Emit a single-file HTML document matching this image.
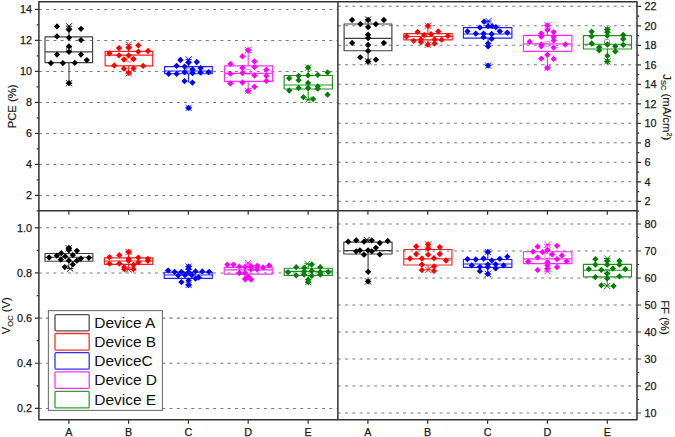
<!DOCTYPE html>
<html><head><meta charset="utf-8"><title>Box charts</title>
<style>html,body{margin:0;padding:0;background:#fff;}body{width:675px;height:437px;overflow:hidden;}svg{display:block;font-family:"Liberation Sans", sans-serif;}</style></head><body>
<svg width="675" height="437" viewBox="0 0 675 437">
<rect x="0" y="0" width="675" height="437" fill="#ffffff"/>
<g>
<line x1="38.9" y1="9.4" x2="337.9" y2="9.4" stroke="#7a7a7a" stroke-width="1.05" stroke-dasharray="2.9 4.36"/>
<line x1="38.9" y1="40.4" x2="337.9" y2="40.4" stroke="#7a7a7a" stroke-width="1.05" stroke-dasharray="2.9 4.36"/>
<line x1="38.9" y1="71.4" x2="337.9" y2="71.4" stroke="#7a7a7a" stroke-width="1.05" stroke-dasharray="2.9 4.36"/>
<line x1="38.9" y1="102.4" x2="337.9" y2="102.4" stroke="#7a7a7a" stroke-width="1.05" stroke-dasharray="2.9 4.36"/>
<line x1="38.9" y1="133.4" x2="337.9" y2="133.4" stroke="#7a7a7a" stroke-width="1.05" stroke-dasharray="2.9 4.36"/>
<line x1="38.9" y1="164.4" x2="337.9" y2="164.4" stroke="#7a7a7a" stroke-width="1.05" stroke-dasharray="2.9 4.36"/>
<line x1="38.9" y1="195.4" x2="337.9" y2="195.4" stroke="#7a7a7a" stroke-width="1.05" stroke-dasharray="2.9 4.36"/>
<line x1="38.9" y1="227.8" x2="337.9" y2="227.8" stroke="#7a7a7a" stroke-width="1.05" stroke-dasharray="2.9 4.36"/>
<line x1="38.9" y1="272.95" x2="337.9" y2="272.95" stroke="#7a7a7a" stroke-width="1.05" stroke-dasharray="2.9 4.36"/>
<line x1="38.9" y1="318.1" x2="337.9" y2="318.1" stroke="#7a7a7a" stroke-width="1.05" stroke-dasharray="2.9 4.36"/>
<line x1="38.9" y1="363.25" x2="337.9" y2="363.25" stroke="#7a7a7a" stroke-width="1.05" stroke-dasharray="2.9 4.36"/>
<line x1="38.9" y1="408.4" x2="337.9" y2="408.4" stroke="#7a7a7a" stroke-width="1.05" stroke-dasharray="2.9 4.36"/>
<line x1="337.9" y1="6.3" x2="637" y2="6.3" stroke="#7a7a7a" stroke-width="1.05" stroke-dasharray="2.9 4.36"/>
<line x1="337.9" y1="25.8" x2="637" y2="25.8" stroke="#7a7a7a" stroke-width="1.05" stroke-dasharray="2.9 4.36"/>
<line x1="337.9" y1="45.3" x2="637" y2="45.3" stroke="#7a7a7a" stroke-width="1.05" stroke-dasharray="2.9 4.36"/>
<line x1="337.9" y1="64.8" x2="637" y2="64.8" stroke="#7a7a7a" stroke-width="1.05" stroke-dasharray="2.9 4.36"/>
<line x1="337.9" y1="84.3" x2="637" y2="84.3" stroke="#7a7a7a" stroke-width="1.05" stroke-dasharray="2.9 4.36"/>
<line x1="337.9" y1="103.8" x2="637" y2="103.8" stroke="#7a7a7a" stroke-width="1.05" stroke-dasharray="2.9 4.36"/>
<line x1="337.9" y1="123.3" x2="637" y2="123.3" stroke="#7a7a7a" stroke-width="1.05" stroke-dasharray="2.9 4.36"/>
<line x1="337.9" y1="142.8" x2="637" y2="142.8" stroke="#7a7a7a" stroke-width="1.05" stroke-dasharray="2.9 4.36"/>
<line x1="337.9" y1="162.3" x2="637" y2="162.3" stroke="#7a7a7a" stroke-width="1.05" stroke-dasharray="2.9 4.36"/>
<line x1="337.9" y1="181.8" x2="637" y2="181.8" stroke="#7a7a7a" stroke-width="1.05" stroke-dasharray="2.9 4.36"/>
<line x1="337.9" y1="201.3" x2="637" y2="201.3" stroke="#7a7a7a" stroke-width="1.05" stroke-dasharray="2.9 4.36"/>
<line x1="337.9" y1="224" x2="637" y2="224" stroke="#7a7a7a" stroke-width="1.05" stroke-dasharray="2.9 4.36"/>
<line x1="337.9" y1="251" x2="637" y2="251" stroke="#7a7a7a" stroke-width="1.05" stroke-dasharray="2.9 4.36"/>
<line x1="337.9" y1="278" x2="637" y2="278" stroke="#7a7a7a" stroke-width="1.05" stroke-dasharray="2.9 4.36"/>
<line x1="337.9" y1="305" x2="637" y2="305" stroke="#7a7a7a" stroke-width="1.05" stroke-dasharray="2.9 4.36"/>
<line x1="337.9" y1="332" x2="637" y2="332" stroke="#7a7a7a" stroke-width="1.05" stroke-dasharray="2.9 4.36"/>
<line x1="337.9" y1="359" x2="637" y2="359" stroke="#7a7a7a" stroke-width="1.05" stroke-dasharray="2.9 4.36"/>
<line x1="337.9" y1="386" x2="637" y2="386" stroke="#7a7a7a" stroke-width="1.05" stroke-dasharray="2.9 4.36"/>
<line x1="337.9" y1="413" x2="637" y2="413" stroke="#7a7a7a" stroke-width="1.05" stroke-dasharray="2.9 4.36"/>
</g>
<line x1="69" y1="36.9" x2="69" y2="29.7" stroke="#404040" stroke-width="1.1"/><line x1="69" y1="62.6" x2="69" y2="83.2" stroke="#404040" stroke-width="1.1"/><rect x="45" y="36.9" width="47.6" height="25.7" fill="none" stroke="#404040" stroke-width="1.15" stroke-linejoin="round"/><line x1="45" y1="51.8" x2="92.6" y2="51.8" stroke="#404040" stroke-width="1.15"/><rect x="66.6" y="46.7" width="4.8" height="4.8" rx="0.6" fill="none" stroke="#404040" stroke-width="0.8" opacity="0.85"/><path d="M65.9 23.1L72.1 29.3M65.9 29.3L72.1 23.1M65.8 26.2L72.2 26.2" stroke="#000000" stroke-width="0.9" fill="none"/><path d="M65.9 80.1L72.1 86.3M65.9 86.3L72.1 80.1M65.8 83.2L72.2 83.2" stroke="#000000" stroke-width="0.9" fill="none"/><path d="M57 23.25L60.15 26.4L57 29.55L53.85 26.4Z" fill="#000000"/><path d="M69 26.55L72.15 29.7L69 32.85L65.85 29.7Z" fill="#000000"/><path d="M81 25.65L84.15 28.8L81 31.95L77.85 28.8Z" fill="#000000"/><path d="M57 33.15L60.15 36.3L57 39.45L53.85 36.3Z" fill="#000000"/><path d="M69 34.55L72.15 37.7L69 40.85L65.85 37.7Z" fill="#000000"/><path d="M81 36.95L84.15 40.1L81 43.25L77.85 40.1Z" fill="#000000"/><path d="M69 43.25L72.15 46.4L69 49.55L65.85 46.4Z" fill="#000000"/><path d="M69 48.65L72.15 51.8L69 54.95L65.85 51.8Z" fill="#000000"/><path d="M57 51.45L60.15 54.6L57 57.75L53.85 54.6Z" fill="#000000"/><path d="M81 51.45L84.15 54.6L81 57.75L77.85 54.6Z" fill="#000000"/><path d="M86.8 56.95L89.95 60.1L86.8 63.25L83.65 60.1Z" fill="#000000"/><path d="M50.9 59.95L54.05 63.1L50.9 66.25L47.75 63.1Z" fill="#000000"/><path d="M62.9 59.95L66.05 63.1L62.9 66.25L59.75 63.1Z" fill="#000000"/><path d="M74.8 59.65L77.95 62.8L74.8 65.95L71.65 62.8Z" fill="#000000"/><path d="M69 80.05L72.15 83.2L69 86.35L65.85 83.2Z" fill="#000000"/>
<line x1="128.7" y1="51.3" x2="128.7" y2="44.6" stroke="#ff2020" stroke-width="1.1"/><line x1="128.7" y1="65.8" x2="128.7" y2="72.8" stroke="#ff2020" stroke-width="1.1"/><rect x="105.1" y="51.3" width="47.6" height="14.5" fill="none" stroke="#ff2020" stroke-width="1.15" stroke-linejoin="round"/><line x1="105.1" y1="55.1" x2="152.7" y2="55.1" stroke="#ff2020" stroke-width="1.15"/><rect x="126.3" y="57.1" width="4.8" height="4.8" rx="0.6" fill="none" stroke="#ff2020" stroke-width="0.8" opacity="0.85"/><path d="M125.6 41.5L131.8 47.7M125.6 47.7L131.8 41.5M125.5 44.6L131.9 44.6" stroke="#ff0000" stroke-width="0.9" fill="none"/><path d="M125.6 70.2L131.8 76.4M125.6 76.4L131.8 70.2M125.5 73.3L131.9 73.3" stroke="#ff0000" stroke-width="0.9" fill="none"/><path d="M119 44.95L122.15 48.1L119 51.25L115.85 48.1Z" fill="#ff0000"/><path d="M128.7 44.65L131.85 47.8L128.7 50.95L125.55 47.8Z" fill="#ff0000"/><path d="M138.3 42.15L141.45 45.3L138.3 48.45L135.15 45.3Z" fill="#ff0000"/><path d="M109.4 50.15L112.55 53.3L109.4 56.45L106.25 53.3Z" fill="#ff0000"/><path d="M138.3 48.55L141.45 51.7L138.3 54.85L135.15 51.7Z" fill="#ff0000"/><path d="M148 47.85L151.15 51L148 54.15L144.85 51Z" fill="#ff0000"/><path d="M119 52.15L122.15 55.3L119 58.45L115.85 55.3Z" fill="#ff0000"/><path d="M128.7 52.15L131.85 55.3L128.7 58.45L125.55 55.3Z" fill="#ff0000"/><path d="M123.9 56.35L127.05 59.5L123.9 62.65L120.75 59.5Z" fill="#ff0000"/><path d="M133.5 55.85L136.65 59L133.5 62.15L130.35 59Z" fill="#ff0000"/><path d="M114.3 62.35L117.45 65.5L114.3 68.65L111.15 65.5Z" fill="#ff0000"/><path d="M143.1 62.75L146.25 65.9L143.1 69.05L139.95 65.9Z" fill="#ff0000"/><path d="M123.9 65.55L127.05 68.7L123.9 71.85L120.75 68.7Z" fill="#ff0000"/><path d="M133.5 65.25L136.65 68.4L133.5 71.55L130.35 68.4Z" fill="#ff0000"/><path d="M128.7 69.65L131.85 72.8L128.7 75.95L125.55 72.8Z" fill="#ff0000"/>
<line x1="188.6" y1="66.6" x2="188.6" y2="59.4" stroke="#2020ff" stroke-width="1.1"/><line x1="188.6" y1="73.8" x2="188.6" y2="82.4" stroke="#2020ff" stroke-width="1.1"/><rect x="164.6" y="66.6" width="47.7" height="7.2" fill="none" stroke="#2020ff" stroke-width="1.15" stroke-linejoin="round"/><line x1="164.6" y1="71" x2="212.3" y2="71" stroke="#2020ff" stroke-width="1.15"/><rect x="186.2" y="68.1" width="4.8" height="4.8" rx="0.6" fill="none" stroke="#2020ff" stroke-width="0.8" opacity="0.85"/><path d="M185.5 56.3L191.7 62.5M185.5 62.5L191.7 56.3M185.4 59.4L191.8 59.4" stroke="#0000ff" stroke-width="0.9" fill="none"/><path d="M185.5 104.8L191.7 111M185.5 111L191.7 104.8M185.4 107.9L191.8 107.9" stroke="#0000ff" stroke-width="0.9" fill="none"/><path d="M180.4 56.85L183.55 60L180.4 63.15L177.25 60Z" fill="#0000ff"/><path d="M188.6 59.45L191.75 62.6L188.6 65.75L185.45 62.6Z" fill="#0000ff"/><path d="M196.8 58.85L199.95 62L196.8 65.15L193.65 62Z" fill="#0000ff"/><path d="M176.6 62.65L179.75 65.8L176.6 68.95L173.45 65.8Z" fill="#0000ff"/><path d="M184.6 63.45L187.75 66.6L184.6 69.75L181.45 66.6Z" fill="#0000ff"/><path d="M192.6 66.25L195.75 69.4L192.6 72.55L189.45 69.4Z" fill="#0000ff"/><path d="M200.6 65.05L203.75 68.2L200.6 71.35L197.45 68.2Z" fill="#0000ff"/><path d="M168.6 70.65L171.75 73.8L168.6 76.95L165.45 73.8Z" fill="#0000ff"/><path d="M176.6 70.65L179.75 73.8L176.6 76.95L173.45 73.8Z" fill="#0000ff"/><path d="M184.6 69.05L187.75 72.2L184.6 75.35L181.45 72.2Z" fill="#0000ff"/><path d="M192.6 69.85L195.75 73L192.6 76.15L189.45 73Z" fill="#0000ff"/><path d="M200.6 69.45L203.75 72.6L200.6 75.75L197.45 72.6Z" fill="#0000ff"/><path d="M208.6 69.05L211.75 72.2L208.6 75.35L205.45 72.2Z" fill="#0000ff"/><path d="M184.5 77.95L187.65 81.1L184.5 84.25L181.35 81.1Z" fill="#0000ff"/><path d="M192.4 79.45L195.55 82.6L192.4 85.75L189.25 82.6Z" fill="#0000ff"/><path d="M188.6 104.75L191.75 107.9L188.6 111.05L185.45 107.9Z" fill="#0000ff"/>
<line x1="248.2" y1="65.8" x2="248.2" y2="50.1" stroke="#ff30ff" stroke-width="1.1"/><line x1="248.2" y1="81.3" x2="248.2" y2="91" stroke="#ff30ff" stroke-width="1.1"/><rect x="224.5" y="65.8" width="48.1" height="15.5" fill="none" stroke="#ff30ff" stroke-width="1.15" stroke-linejoin="round"/><line x1="224.5" y1="73.4" x2="272.6" y2="73.4" stroke="#ff30ff" stroke-width="1.15"/><rect x="245.7" y="69.6" width="4.8" height="4.8" rx="0.6" fill="none" stroke="#ff30ff" stroke-width="0.8" opacity="0.85"/><path d="M245 47L251.2 53.2M245 53.2L251.2 47M244.9 50.1L251.3 50.1" stroke="#ff00ff" stroke-width="0.9" fill="none"/><path d="M245 87.9L251.2 94.1M245 94.1L251.2 87.9M244.9 91L251.3 91" stroke="#ff00ff" stroke-width="0.9" fill="none"/><path d="M248.1 46.95L251.25 50.1L248.1 53.25L244.95 50.1Z" fill="#ff00ff"/><path d="M242.4 53.25L245.55 56.4L242.4 59.55L239.25 56.4Z" fill="#ff00ff"/><path d="M254.4 58.25L257.55 61.4L254.4 64.55L251.25 61.4Z" fill="#ff00ff"/><path d="M230.4 60.75L233.55 63.9L230.4 67.05L227.25 63.9Z" fill="#ff00ff"/><path d="M254.4 63.95L257.55 67.1L254.4 70.25L251.25 67.1Z" fill="#ff00ff"/><path d="M242.4 64.75L245.55 67.9L242.4 71.05L239.25 67.9Z" fill="#ff00ff"/><path d="M266.3 66.65L269.45 69.8L266.3 72.95L263.15 69.8Z" fill="#ff00ff"/><path d="M242.4 69.85L245.55 73L242.4 76.15L239.25 73Z" fill="#ff00ff"/><path d="M230.4 70.55L233.55 73.7L230.4 76.85L227.25 73.7Z" fill="#ff00ff"/><path d="M254.4 72.35L257.55 75.5L254.4 78.65L251.25 75.5Z" fill="#ff00ff"/><path d="M266.3 72.75L269.45 75.9L266.3 79.05L263.15 75.9Z" fill="#ff00ff"/><path d="M266.3 77.75L269.45 80.9L266.3 84.05L263.15 80.9Z" fill="#ff00ff"/><path d="M230.4 80.25L233.55 83.4L230.4 86.55L227.25 83.4Z" fill="#ff00ff"/><path d="M242.4 79.35L245.55 82.5L242.4 85.65L239.25 82.5Z" fill="#ff00ff"/><path d="M254.4 83.65L257.55 86.8L254.4 89.95L251.25 86.8Z" fill="#ff00ff"/><path d="M248.1 87.85L251.25 91L248.1 94.15L244.95 91Z" fill="#ff00ff"/>
<line x1="308.2" y1="75.5" x2="308.2" y2="67.6" stroke="#259025" stroke-width="1.1"/><line x1="308.2" y1="89" x2="308.2" y2="99.1" stroke="#259025" stroke-width="1.1"/><rect x="284.1" y="75.5" width="48.3" height="13.5" fill="none" stroke="#259025" stroke-width="1.15" stroke-linejoin="round"/><line x1="284.1" y1="85" x2="332.4" y2="85" stroke="#259025" stroke-width="1.15"/><path d="M305 64.5L311.2 70.7M305 70.7L311.2 64.5M304.9 67.6L311.3 67.6" stroke="#008000" stroke-width="0.9" fill="none"/><path d="M305 96.6L311.2 102.8M305 102.8L311.2 96.6M304.9 99.7L311.3 99.7" stroke="#008000" stroke-width="0.9" fill="none"/><path d="M308.1 64.45L311.25 67.6L308.1 70.75L304.95 67.6Z" fill="#008000"/><path d="M327.6 69.25L330.75 72.4L327.6 75.55L324.45 72.4Z" fill="#008000"/><path d="M298.6 72.65L301.75 75.8L298.6 78.95L295.45 75.8Z" fill="#008000"/><path d="M308.1 72.25L311.25 75.4L308.1 78.55L304.95 75.4Z" fill="#008000"/><path d="M317.8 71.75L320.95 74.9L317.8 78.05L314.65 74.9Z" fill="#008000"/><path d="M289.2 75.15L292.35 78.3L289.2 81.45L286.05 78.3Z" fill="#008000"/><path d="M298.6 77.05L301.75 80.2L298.6 83.35L295.45 80.2Z" fill="#008000"/><path d="M308.1 79.85L311.25 83L308.1 86.15L304.95 83Z" fill="#008000"/><path d="M289.2 87.35L292.35 90.5L289.2 93.65L286.05 90.5Z" fill="#008000"/><path d="M298.6 84.85L301.75 88L298.6 91.15L295.45 88Z" fill="#008000"/><path d="M308.1 84.85L311.25 88L308.1 91.15L304.95 88Z" fill="#008000"/><path d="M317.8 83.35L320.95 86.5L317.8 89.65L314.65 86.5Z" fill="#008000"/><path d="M317.8 85.55L320.95 88.7L317.8 91.85L314.65 88.7Z" fill="#008000"/><path d="M327.6 91.55L330.75 94.7L327.6 97.85L324.45 94.7Z" fill="#008000"/><path d="M303.4 94.05L306.55 97.2L303.4 100.35L300.25 97.2Z" fill="#008000"/><path d="M313.1 95.95L316.25 99.1L313.1 102.25L309.95 99.1Z" fill="#008000"/>
<line x1="368.1" y1="24" x2="368.1" y2="19.9" stroke="#404040" stroke-width="1.1"/><line x1="368.1" y1="50.7" x2="368.1" y2="61.4" stroke="#404040" stroke-width="1.1"/><rect x="344.1" y="24" width="47.8" height="26.7" fill="none" stroke="#404040" stroke-width="1.15" stroke-linejoin="round"/><line x1="344.1" y1="38.4" x2="391.9" y2="38.4" stroke="#404040" stroke-width="1.15"/><path d="M365 16.4L371.2 22.6M365 22.6L371.2 16.4M364.9 19.5L371.3 19.5" stroke="#000000" stroke-width="0.9" fill="none"/><path d="M365 58.3L371.2 64.5M365 64.5L371.2 58.3M364.9 61.4L371.3 61.4" stroke="#000000" stroke-width="0.9" fill="none"/><path d="M352.1 16.75L355.25 19.9L352.1 23.05L348.95 19.9Z" fill="#000000"/><path d="M368.1 16.75L371.25 19.9L368.1 23.05L364.95 19.9Z" fill="#000000"/><path d="M383.9 16.75L387.05 19.9L383.9 23.05L380.75 19.9Z" fill="#000000"/><path d="M360.3 20.95L363.45 24.1L360.3 27.25L357.15 24.1Z" fill="#000000"/><path d="M375.9 20.95L379.05 24.1L375.9 27.25L372.75 24.1Z" fill="#000000"/><path d="M368.1 23.95L371.25 27.1L368.1 30.25L364.95 27.1Z" fill="#000000"/><path d="M368.1 31.55L371.25 34.7L368.1 37.85L364.95 34.7Z" fill="#000000"/><path d="M368.1 34.95L371.25 38.1L368.1 41.25L364.95 38.1Z" fill="#000000"/><path d="M352.1 39.75L355.25 42.9L352.1 46.05L348.95 42.9Z" fill="#000000"/><path d="M383.9 39.75L387.05 42.9L383.9 46.05L380.75 42.9Z" fill="#000000"/><path d="M368.1 41.85L371.25 45L368.1 48.15L364.95 45Z" fill="#000000"/><path d="M368.1 47.75L371.25 50.9L368.1 54.05L364.95 50.9Z" fill="#000000"/><path d="M360.3 54.15L363.45 57.3L360.3 60.45L357.15 57.3Z" fill="#000000"/><path d="M375.9 56.55L379.05 59.7L375.9 62.85L372.75 59.7Z" fill="#000000"/><path d="M368.1 58.25L371.25 61.4L368.1 64.55L364.95 61.4Z" fill="#000000"/>
<line x1="427.9" y1="33.6" x2="427.9" y2="25.8" stroke="#ff2020" stroke-width="1.1"/><line x1="427.9" y1="39.9" x2="427.9" y2="44.7" stroke="#ff2020" stroke-width="1.1"/><rect x="403.8" y="33.6" width="48.4" height="6.3" fill="none" stroke="#ff2020" stroke-width="1.15" stroke-linejoin="round"/><line x1="403.8" y1="36.5" x2="452.2" y2="36.5" stroke="#ff2020" stroke-width="1.15"/><path d="M424.8 22.7L431 28.9M424.8 28.9L431 22.7M424.7 25.8L431.1 25.8" stroke="#ff0000" stroke-width="0.9" fill="none"/><path d="M424.8 41.6L431 47.8M424.8 47.8L431 41.6M424.7 44.7L431.1 44.7" stroke="#ff0000" stroke-width="0.9" fill="none"/><path d="M427.9 22.65L431.05 25.8L427.9 28.95L424.75 25.8Z" fill="#ff0000"/><path d="M417.6 28.75L420.75 31.9L417.6 35.05L414.45 31.9Z" fill="#ff0000"/><path d="M438.2 28.35L441.35 31.5L438.2 34.65L435.05 31.5Z" fill="#ff0000"/><path d="M406.6 33.35L409.75 36.5L406.6 39.65L403.45 36.5Z" fill="#ff0000"/><path d="M424.2 31.85L427.35 35L424.2 38.15L421.05 35Z" fill="#ff0000"/><path d="M431.1 31.05L434.25 34.2L431.1 37.35L427.95 34.2Z" fill="#ff0000"/><path d="M448 32.75L451.15 35.9L448 39.05L444.85 35.9Z" fill="#ff0000"/><path d="M413.7 37.65L416.85 40.8L413.7 43.95L410.55 40.8Z" fill="#ff0000"/><path d="M420.9 36.35L424.05 39.5L420.9 42.65L417.75 39.5Z" fill="#ff0000"/><path d="M420.9 38.85L424.05 42L420.9 45.15L417.75 42Z" fill="#ff0000"/><path d="M434.6 36.35L437.75 39.5L434.6 42.65L431.45 39.5Z" fill="#ff0000"/><path d="M434.6 40.25L437.75 43.4L434.6 46.55L431.45 43.4Z" fill="#ff0000"/><path d="M441.6 36.55L444.75 39.7L441.6 42.85L438.45 39.7Z" fill="#ff0000"/><path d="M427.9 41.55L431.05 44.7L427.9 47.85L424.75 44.7Z" fill="#ff0000"/>
<line x1="488.1" y1="27.6" x2="488.1" y2="21" stroke="#2020ff" stroke-width="1.1"/><line x1="488.1" y1="38.1" x2="488.1" y2="46.4" stroke="#2020ff" stroke-width="1.1"/><rect x="463.4" y="27.6" width="48.5" height="10.5" fill="none" stroke="#2020ff" stroke-width="1.15" stroke-linejoin="round"/><line x1="463.4" y1="34" x2="511.9" y2="34" stroke="#2020ff" stroke-width="1.15"/><path d="M485.4 17.9L491.6 24.1M485.4 24.1L491.6 17.9M485.3 21L491.7 21" stroke="#0000ff" stroke-width="0.9" fill="none"/><path d="M485 62.5L491.2 68.7M485 68.7L491.2 62.5M484.9 65.6L491.3 65.6" stroke="#0000ff" stroke-width="0.9" fill="none"/><path d="M484 18.55L487.15 21.7L484 24.85L480.85 21.7Z" fill="#0000ff"/><path d="M488.1 23.05L491.25 26.2L488.1 29.35L484.95 26.2Z" fill="#0000ff"/><path d="M492.2 23.05L495.35 26.2L492.2 29.35L489.05 26.2Z" fill="#0000ff"/><path d="M495.9 23.95L499.05 27.1L495.9 30.25L492.75 27.1Z" fill="#0000ff"/><path d="M479.9 24.45L483.05 27.6L479.9 30.75L476.75 27.6Z" fill="#0000ff"/><path d="M467.5 28.15L470.65 31.3L467.5 34.45L464.35 31.3Z" fill="#0000ff"/><path d="M499.8 28.15L502.95 31.3L499.8 34.45L496.65 31.3Z" fill="#0000ff"/><path d="M507.3 29.45L510.45 32.6L507.3 35.75L504.15 32.6Z" fill="#0000ff"/><path d="M475.8 30.45L478.95 33.6L475.8 36.75L472.65 33.6Z" fill="#0000ff"/><path d="M483.6 30.45L486.75 33.6L483.6 36.75L480.45 33.6Z" fill="#0000ff"/><path d="M491.6 30.85L494.75 34L491.6 37.15L488.45 34Z" fill="#0000ff"/><path d="M483.6 34.05L486.75 37.2L483.6 40.35L480.45 37.2Z" fill="#0000ff"/><path d="M491.6 35.65L494.75 38.8L491.6 41.95L488.45 38.8Z" fill="#0000ff"/><path d="M488.1 40.45L491.25 43.6L488.1 46.75L484.95 43.6Z" fill="#0000ff"/><path d="M488.1 43.25L491.25 46.4L488.1 49.55L484.95 46.4Z" fill="#0000ff"/><path d="M488.1 62.45L491.25 65.6L488.1 68.75L484.95 65.6Z" fill="#0000ff"/>
<line x1="547.4" y1="35.3" x2="547.4" y2="25.3" stroke="#ff30ff" stroke-width="1.1"/><line x1="547.4" y1="51.4" x2="547.4" y2="67.8" stroke="#ff30ff" stroke-width="1.1"/><rect x="523.4" y="35.3" width="48.5" height="16.1" fill="none" stroke="#ff30ff" stroke-width="1.15" stroke-linejoin="round"/><line x1="523.4" y1="43.8" x2="571.9" y2="43.8" stroke="#ff30ff" stroke-width="1.15"/><rect x="545" y="41.4" width="4.8" height="4.8" rx="0.6" fill="none" stroke="#ff30ff" stroke-width="0.8" opacity="0.85"/><path d="M544.3 22.2L550.5 28.4M544.3 28.4L550.5 22.2M544.2 25.3L550.6 25.3" stroke="#ff00ff" stroke-width="0.9" fill="none"/><path d="M544.3 64.7L550.5 70.9M544.3 70.9L550.5 64.7M544.2 67.8L550.6 67.8" stroke="#ff00ff" stroke-width="0.9" fill="none"/><path d="M547.4 22.15L550.55 25.3L547.4 28.45L544.25 25.3Z" fill="#ff00ff"/><path d="M547.4 26.95L550.55 30.1L547.4 33.25L544.25 30.1Z" fill="#ff00ff"/><path d="M553.6 28.95L556.75 32.1L553.6 35.25L550.45 32.1Z" fill="#ff00ff"/><path d="M541.3 30.35L544.45 33.5L541.3 36.65L538.15 33.5Z" fill="#ff00ff"/><path d="M541.3 33.55L544.45 36.7L541.3 39.85L538.15 36.7Z" fill="#ff00ff"/><path d="M553.6 33.85L556.75 37L553.6 40.15L550.45 37Z" fill="#ff00ff"/><path d="M553.6 37.25L556.75 40.4L553.6 43.55L550.45 40.4Z" fill="#ff00ff"/><path d="M529.6 38.55L532.75 41.7L529.6 44.85L526.45 41.7Z" fill="#ff00ff"/><path d="M541.3 41.35L544.45 44.5L541.3 47.65L538.15 44.5Z" fill="#ff00ff"/><path d="M565.3 41.35L568.45 44.5L565.3 47.65L562.15 44.5Z" fill="#ff00ff"/><path d="M541.3 43.15L544.45 46.3L541.3 49.45L538.15 46.3Z" fill="#ff00ff"/><path d="M553.6 44.45L556.75 47.6L553.6 50.75L550.45 47.6Z" fill="#ff00ff"/><path d="M547.4 51.65L550.55 54.8L547.4 57.95L544.25 54.8Z" fill="#ff00ff"/><path d="M541.3 55.45L544.45 58.6L541.3 61.75L538.15 58.6Z" fill="#ff00ff"/><path d="M553.6 55.75L556.75 58.9L553.6 62.05L550.45 58.9Z" fill="#ff00ff"/><path d="M547.4 64.65L550.55 67.8L547.4 70.95L544.25 67.8Z" fill="#ff00ff"/>
<line x1="607.4" y1="35.6" x2="607.4" y2="29.4" stroke="#259025" stroke-width="1.1"/><line x1="607.4" y1="49" x2="607.4" y2="61.4" stroke="#259025" stroke-width="1.1"/><rect x="583.4" y="35.6" width="48.1" height="13.4" fill="none" stroke="#259025" stroke-width="1.15" stroke-linejoin="round"/><line x1="583.4" y1="44.2" x2="631.5" y2="44.2" stroke="#259025" stroke-width="1.15"/><rect x="604.6" y="39.6" width="4.8" height="4.8" rx="0.6" fill="none" stroke="#259025" stroke-width="0.8" opacity="0.85"/><path d="M604.3 26.3L610.5 32.5M604.3 32.5L610.5 26.3M604.2 29.4L610.6 29.4" stroke="#008000" stroke-width="0.9" fill="none"/><path d="M604.3 58.3L610.5 64.5M604.3 64.5L610.5 58.3M604.2 61.4L610.6 61.4" stroke="#008000" stroke-width="0.9" fill="none"/><path d="M607.4 26.25L610.55 29.4L607.4 32.55L604.25 29.4Z" fill="#008000"/><path d="M607.4 29.05L610.55 32.2L607.4 35.35L604.25 32.2Z" fill="#008000"/><path d="M607.4 32.45L610.55 35.6L607.4 38.75L604.25 35.6Z" fill="#008000"/><path d="M591.7 28.55L594.85 31.7L591.7 34.85L588.55 31.7Z" fill="#008000"/><path d="M591.7 33.15L594.85 36.3L591.7 39.45L588.55 36.3Z" fill="#008000"/><path d="M623.2 31.75L626.35 34.9L623.2 38.05L620.05 34.9Z" fill="#008000"/><path d="M623.2 35.85L626.35 39L623.2 42.15L620.05 39Z" fill="#008000"/><path d="M591.7 40.35L594.85 43.5L591.7 46.65L588.55 43.5Z" fill="#008000"/><path d="M607.4 41.35L610.55 44.5L607.4 47.65L604.25 44.5Z" fill="#008000"/><path d="M623.2 41.75L626.35 44.9L623.2 48.05L620.05 44.9Z" fill="#008000"/><path d="M599.2 44.15L602.35 47.3L599.2 50.45L596.05 47.3Z" fill="#008000"/><path d="M599.2 47.25L602.35 50.4L599.2 53.55L596.05 50.4Z" fill="#008000"/><path d="M615.3 43.15L618.45 46.3L615.3 49.45L612.15 46.3Z" fill="#008000"/><path d="M615.3 48.25L618.45 51.4L615.3 54.55L612.15 51.4Z" fill="#008000"/><path d="M607.4 52.75L610.55 55.9L607.4 59.05L604.25 55.9Z" fill="#008000"/><path d="M607.4 58.25L610.55 61.4L607.4 64.55L604.25 61.4Z" fill="#008000"/>
<line x1="68.8" y1="253.5" x2="68.8" y2="248" stroke="#404040" stroke-width="1.1"/><line x1="68.8" y1="261.2" x2="68.8" y2="268" stroke="#404040" stroke-width="1.1"/><rect x="45" y="253.5" width="47.9" height="7.7" fill="none" stroke="#404040" stroke-width="1.15" stroke-linejoin="round"/><line x1="45" y1="257.2" x2="92.9" y2="257.2" stroke="#404040" stroke-width="1.15"/><path d="M65.7 245.2L71.9 251.4M65.7 251.4L71.9 245.2M65.6 248.3L72 248.3" stroke="#000000" stroke-width="0.9" fill="none"/><path d="M67.1 265.5L73.3 271.7M67.1 271.7L73.3 265.5M67 268.6L73.4 268.6" stroke="#000000" stroke-width="0.9" fill="none"/><path d="M68.8 244.85L71.95 248L68.8 251.15L65.65 248Z" fill="#000000"/><path d="M68.8 246.85L71.95 250L68.8 253.15L65.65 250Z" fill="#000000"/><path d="M76.9 247.65L80.05 250.8L76.9 253.95L73.75 250.8Z" fill="#000000"/><path d="M61.2 250.05L64.35 253.2L61.2 256.35L58.05 253.2Z" fill="#000000"/><path d="M56.8 252.45L59.95 255.6L56.8 258.75L53.65 255.6Z" fill="#000000"/><path d="M65.2 253.25L68.35 256.4L65.2 259.55L62.05 256.4Z" fill="#000000"/><path d="M72.8 252.05L75.95 255.2L72.8 258.35L69.65 255.2Z" fill="#000000"/><path d="M49.1 254.35L52.25 257.5L49.1 260.65L45.95 257.5Z" fill="#000000"/><path d="M88.9 254.65L92.05 257.8L88.9 260.95L85.75 257.8Z" fill="#000000"/><path d="M80.9 255.45L84.05 258.6L80.9 261.75L77.75 258.6Z" fill="#000000"/><path d="M60.8 256.45L63.95 259.6L60.8 262.75L57.65 259.6Z" fill="#000000"/><path d="M68.8 257.25L71.95 260.4L68.8 263.55L65.65 260.4Z" fill="#000000"/><path d="M76.9 257.55L80.05 260.7L76.9 263.85L73.75 260.7Z" fill="#000000"/><path d="M72.8 261.25L75.95 264.4L72.8 267.55L69.65 264.4Z" fill="#000000"/><path d="M64.8 263.95L67.95 267.1L64.8 270.25L61.65 267.1Z" fill="#000000"/>
<line x1="128.6" y1="257.8" x2="128.6" y2="252" stroke="#ff2020" stroke-width="1.1"/><line x1="128.6" y1="264.4" x2="128.6" y2="269.6" stroke="#ff2020" stroke-width="1.1"/><rect x="104.4" y="257.8" width="48.3" height="6.6" fill="none" stroke="#ff2020" stroke-width="1.15" stroke-linejoin="round"/><line x1="104.4" y1="261" x2="152.7" y2="261" stroke="#ff2020" stroke-width="1.15"/><path d="M125.5 248.9L131.7 255.1M125.5 255.1L131.7 248.9M125.4 252L131.8 252" stroke="#ff0000" stroke-width="0.9" fill="none"/><path d="M125.5 266.5L131.7 272.7M125.5 272.7L131.7 266.5M125.4 269.6L131.8 269.6" stroke="#ff0000" stroke-width="0.9" fill="none"/><path d="M128.6 248.85L131.75 252L128.6 255.15L125.45 252Z" fill="#ff0000"/><path d="M109.4 254.05L112.55 257.2L109.4 260.35L106.25 257.2Z" fill="#ff0000"/><path d="M119.3 252.05L122.45 255.2L119.3 258.35L116.15 255.2Z" fill="#ff0000"/><path d="M128.6 255.65L131.75 258.8L128.6 261.95L125.45 258.8Z" fill="#ff0000"/><path d="M128.6 257.65L131.75 260.8L128.6 263.95L125.45 260.8Z" fill="#ff0000"/><path d="M138.3 254.45L141.45 257.6L138.3 260.75L135.15 257.6Z" fill="#ff0000"/><path d="M147.9 255.65L151.05 258.8L147.9 261.95L144.75 258.8Z" fill="#ff0000"/><path d="M147.9 257.65L151.05 260.8L147.9 263.95L144.75 260.8Z" fill="#ff0000"/><path d="M109.4 260.45L112.55 263.6L109.4 266.75L106.25 263.6Z" fill="#ff0000"/><path d="M119.3 260.45L122.45 263.6L119.3 266.75L116.15 263.6Z" fill="#ff0000"/><path d="M138.3 259.25L141.45 262.4L138.3 265.55L135.15 262.4Z" fill="#ff0000"/><path d="M124.2 264.05L127.35 267.2L124.2 270.35L121.05 267.2Z" fill="#ff0000"/><path d="M124.2 266.05L127.35 269.2L124.2 272.35L121.05 269.2Z" fill="#ff0000"/><path d="M133.5 261.65L136.65 264.8L133.5 267.95L130.35 264.8Z" fill="#ff0000"/><path d="M133.5 266.05L136.65 269.2L133.5 272.35L130.35 269.2Z" fill="#ff0000"/>
<line x1="188.6" y1="272.2" x2="188.6" y2="266.6" stroke="#2020ff" stroke-width="1.1"/><line x1="188.6" y1="278.4" x2="188.6" y2="285" stroke="#2020ff" stroke-width="1.1"/><rect x="164.2" y="272.2" width="48.1" height="6.2" fill="none" stroke="#2020ff" stroke-width="1.15" stroke-linejoin="round"/><line x1="164.2" y1="275" x2="212.3" y2="275" stroke="#2020ff" stroke-width="1.15"/><path d="M185.5 263.5L191.7 269.7M185.5 269.7L191.7 263.5M185.4 266.6L191.8 266.6" stroke="#0000ff" stroke-width="0.9" fill="none"/><path d="M185.5 281.9L191.7 288.1M185.5 288.1L191.7 281.9M185.4 285L191.8 285" stroke="#0000ff" stroke-width="0.9" fill="none"/><path d="M188.6 263.45L191.75 266.6L188.6 269.75L185.45 266.6Z" fill="#0000ff"/><path d="M188.6 265.85L191.75 269L188.6 272.15L185.45 269Z" fill="#0000ff"/><path d="M168.1 267.45L171.25 270.6L168.1 273.75L164.95 270.6Z" fill="#0000ff"/><path d="M174.6 268.65L177.75 271.8L174.6 274.95L171.45 271.8Z" fill="#0000ff"/><path d="M181.4 268.65L184.55 271.8L181.4 274.95L178.25 271.8Z" fill="#0000ff"/><path d="M195.5 268.25L198.65 271.4L195.5 274.55L192.35 271.4Z" fill="#0000ff"/><path d="M202.3 268.25L205.45 271.4L202.3 274.55L199.15 271.4Z" fill="#0000ff"/><path d="M209.1 268.65L212.25 271.8L209.1 274.95L205.95 271.8Z" fill="#0000ff"/><path d="M188.6 269.05L191.75 272.2L188.6 275.35L185.45 272.2Z" fill="#0000ff"/><path d="M178.2 272.25L181.35 275.4L178.2 278.55L175.05 275.4Z" fill="#0000ff"/><path d="M185 271.85L188.15 275L185 278.15L181.85 275Z" fill="#0000ff"/><path d="M191.8 271.85L194.95 275L191.8 278.15L188.65 275Z" fill="#0000ff"/><path d="M198.7 274.25L201.85 277.4L198.7 280.55L195.55 277.4Z" fill="#0000ff"/><path d="M195.5 275.45L198.65 278.6L195.5 281.75L192.35 278.6Z" fill="#0000ff"/><path d="M181.4 278.95L184.55 282.1L181.4 285.25L178.25 282.1Z" fill="#0000ff"/><path d="M188.6 277.45L191.75 280.6L188.6 283.75L185.45 280.6Z" fill="#0000ff"/><path d="M188.6 281.85L191.75 285L188.6 288.15L185.45 285Z" fill="#0000ff"/>
<line x1="248.2" y1="267.4" x2="248.2" y2="263" stroke="#ff30ff" stroke-width="1.1"/><line x1="248.2" y1="274.2" x2="248.2" y2="279.4" stroke="#ff30ff" stroke-width="1.1"/><rect x="224.2" y="267.4" width="48.1" height="6.8" fill="none" stroke="#ff30ff" stroke-width="1.15" stroke-linejoin="round"/><line x1="224.2" y1="269.8" x2="272.3" y2="269.8" stroke="#ff30ff" stroke-width="1.15"/><path d="M245.1 259.9L251.3 266.1M245.1 266.1L251.3 259.9M245 263L251.4 263" stroke="#ff00ff" stroke-width="0.9" fill="none"/><path d="M245.1 276.3L251.3 282.5M245.1 282.5L251.3 276.3M245 279.4L251.4 279.4" stroke="#ff00ff" stroke-width="0.9" fill="none"/><path d="M227.4 261.45L230.55 264.6L227.4 267.75L224.25 264.6Z" fill="#ff00ff"/><path d="M233.4 261.45L236.55 264.6L233.4 267.75L230.25 264.6Z" fill="#ff00ff"/><path d="M239.4 263.45L242.55 266.6L239.4 269.75L236.25 266.6Z" fill="#ff00ff"/><path d="M245 263.85L248.15 267L245 270.15L241.85 267Z" fill="#ff00ff"/><path d="M251 263.05L254.15 266.2L251 269.35L247.85 266.2Z" fill="#ff00ff"/><path d="M251 266.25L254.15 269.4L251 272.55L247.85 269.4Z" fill="#ff00ff"/><path d="M257.1 262.65L260.25 265.8L257.1 268.95L253.95 265.8Z" fill="#ff00ff"/><path d="M257.1 266.25L260.25 269.4L257.1 272.55L253.95 269.4Z" fill="#ff00ff"/><path d="M263.1 264.25L266.25 267.4L263.1 270.55L259.95 267.4Z" fill="#ff00ff"/><path d="M269.1 262.25L272.25 265.4L269.1 268.55L265.95 265.4Z" fill="#ff00ff"/><path d="M239.4 269.85L242.55 273L239.4 276.15L236.25 273Z" fill="#ff00ff"/><path d="M245 269.85L248.15 273L245 276.15L241.85 273Z" fill="#ff00ff"/><path d="M245 275.85L248.15 279L245 282.15L241.85 279Z" fill="#ff00ff"/><path d="M251 276.25L254.15 279.4L251 282.55L247.85 279.4Z" fill="#ff00ff"/><path d="M248.2 273.45L251.35 276.6L248.2 279.75L245.05 276.6Z" fill="#ff00ff"/>
<line x1="308.2" y1="268.2" x2="308.2" y2="264" stroke="#259025" stroke-width="1.1"/><line x1="308.2" y1="275.4" x2="308.2" y2="282.2" stroke="#259025" stroke-width="1.1"/><rect x="284.2" y="268.2" width="48.1" height="7.2" fill="none" stroke="#259025" stroke-width="1.15" stroke-linejoin="round"/><line x1="284.2" y1="271.4" x2="332.3" y2="271.4" stroke="#259025" stroke-width="1.15"/><path d="M304.3 260.7L310.5 266.9M304.3 266.9L310.5 260.7M304.2 263.8L310.6 263.8" stroke="#008000" stroke-width="0.9" fill="none"/><path d="M305.1 279.1L311.3 285.3M305.1 285.3L311.3 279.1M305 282.2L311.4 282.2" stroke="#008000" stroke-width="0.9" fill="none"/><path d="M311.8 261.35L314.95 264.5L311.8 267.65L308.65 264.5Z" fill="#008000"/><path d="M296.2 264.05L299.35 267.2L296.2 270.35L293.05 267.2Z" fill="#008000"/><path d="M304.2 264.65L307.35 267.8L304.2 270.95L301.05 267.8Z" fill="#008000"/><path d="M320.3 264.05L323.45 267.2L320.3 270.35L317.15 267.2Z" fill="#008000"/><path d="M288.1 269.05L291.25 272.2L288.1 275.35L284.95 272.2Z" fill="#008000"/><path d="M328.3 268.65L331.45 271.8L328.3 274.95L325.15 271.8Z" fill="#008000"/><path d="M304.2 268.25L307.35 271.4L304.2 274.55L301.05 271.4Z" fill="#008000"/><path d="M311.8 267.85L314.95 271L311.8 274.15L308.65 271Z" fill="#008000"/><path d="M320.3 269.05L323.45 272.2L320.3 275.35L317.15 272.2Z" fill="#008000"/><path d="M320.3 271.45L323.45 274.6L320.3 277.75L317.15 274.6Z" fill="#008000"/><path d="M296.2 272.25L299.35 275.4L296.2 278.55L293.05 275.4Z" fill="#008000"/><path d="M304.2 271.45L307.35 274.6L304.2 277.75L301.05 274.6Z" fill="#008000"/><path d="M311.8 272.65L314.95 275.8L311.8 278.95L308.65 275.8Z" fill="#008000"/><path d="M308.2 276.65L311.35 279.8L308.2 282.95L305.05 279.8Z" fill="#008000"/><path d="M308.2 279.05L311.35 282.2L308.2 285.35L305.05 282.2Z" fill="#008000"/>
<line x1="368.1" y1="242.1" x2="368.1" y2="240" stroke="#404040" stroke-width="1.1"/><line x1="368.1" y1="254" x2="368.1" y2="271.8" stroke="#404040" stroke-width="1.1"/><rect x="343.8" y="242.1" width="48.3" height="11.9" fill="none" stroke="#404040" stroke-width="1.15" stroke-linejoin="round"/><line x1="343.8" y1="250.6" x2="392.1" y2="250.6" stroke="#404040" stroke-width="1.15"/><path d="M363.6 236.8L369.8 243M363.6 243L369.8 236.8M363.5 239.9L369.9 239.9" stroke="#000000" stroke-width="0.9" fill="none"/><path d="M365 278.3L371.2 284.5M365 284.5L371.2 278.3M364.9 281.4L371.3 281.4" stroke="#000000" stroke-width="0.9" fill="none"/><path d="M348.2 238.55L351.35 241.7L348.2 244.85L345.05 241.7Z" fill="#000000"/><path d="M356.2 237.15L359.35 240.3L356.2 243.45L353.05 240.3Z" fill="#000000"/><path d="M364 238.55L367.15 241.7L364 244.85L360.85 241.7Z" fill="#000000"/><path d="M371.8 237.15L374.95 240.3L371.8 243.45L368.65 240.3Z" fill="#000000"/><path d="M379.8 239.85L382.95 243L379.8 246.15L376.65 243Z" fill="#000000"/><path d="M387.7 237.85L390.85 241L387.7 244.15L384.55 241Z" fill="#000000"/><path d="M375.9 244.65L379.05 247.8L375.9 250.95L372.75 247.8Z" fill="#000000"/><path d="M356.2 248.15L359.35 251.3L356.2 254.45L353.05 251.3Z" fill="#000000"/><path d="M359.9 247.15L363.05 250.3L359.9 253.45L356.75 250.3Z" fill="#000000"/><path d="M368.1 247.15L371.25 250.3L368.1 253.45L364.95 250.3Z" fill="#000000"/><path d="M371.8 248.15L374.95 251.3L371.8 254.45L368.65 251.3Z" fill="#000000"/><path d="M364 251.55L367.15 254.7L364 257.85L360.85 254.7Z" fill="#000000"/><path d="M379.8 251.25L382.95 254.4L379.8 257.55L376.65 254.4Z" fill="#000000"/><path d="M368.1 268.65L371.25 271.8L368.1 274.95L364.95 271.8Z" fill="#000000"/><path d="M368.1 278.25L371.25 281.4L368.1 284.55L364.95 281.4Z" fill="#000000"/>
<line x1="428.1" y1="249.5" x2="428.1" y2="244.4" stroke="#ff2020" stroke-width="1.1"/><line x1="428.1" y1="265" x2="428.1" y2="269.8" stroke="#ff2020" stroke-width="1.1"/><rect x="403.8" y="249.5" width="48.1" height="15.5" fill="none" stroke="#ff2020" stroke-width="1.15" stroke-linejoin="round"/><line x1="403.8" y1="258.8" x2="451.9" y2="258.8" stroke="#ff2020" stroke-width="1.15"/><path d="M425 241.3L431.2 247.5M425 247.5L431.2 241.3M424.9 244.4L431.3 244.4" stroke="#ff0000" stroke-width="0.9" fill="none"/><path d="M425 266.7L431.2 272.9M425 272.9L431.2 266.7M424.9 269.8L431.3 269.8" stroke="#ff0000" stroke-width="0.9" fill="none"/><path d="M428.1 241.25L431.25 244.4L428.1 247.55L424.95 244.4Z" fill="#ff0000"/><path d="M416.2 243.35L419.35 246.5L416.2 249.65L413.05 246.5Z" fill="#ff0000"/><path d="M428.1 245.35L431.25 248.5L428.1 251.65L424.95 248.5Z" fill="#ff0000"/><path d="M439.8 243.95L442.95 247.1L439.8 250.25L436.65 247.1Z" fill="#ff0000"/><path d="M416.2 250.85L419.35 254L416.2 257.15L413.05 254Z" fill="#ff0000"/><path d="M428.1 251.55L431.25 254.7L428.1 257.85L424.95 254.7Z" fill="#ff0000"/><path d="M439.8 250.85L442.95 254L439.8 257.15L436.65 254Z" fill="#ff0000"/><path d="M409.9 255.35L413.05 258.5L409.9 261.65L406.75 258.5Z" fill="#ff0000"/><path d="M421.9 255.35L425.05 258.5L421.9 261.65L418.75 258.5Z" fill="#ff0000"/><path d="M434 254.95L437.15 258.1L434 261.25L430.85 258.1Z" fill="#ff0000"/><path d="M446 257.35L449.15 260.5L446 263.65L442.85 260.5Z" fill="#ff0000"/><path d="M421.9 261.45L425.05 264.6L421.9 267.75L418.75 264.6Z" fill="#ff0000"/><path d="M421.9 266.95L425.05 270.1L421.9 273.25L418.75 270.1Z" fill="#ff0000"/><path d="M434 263.25L437.15 266.4L434 269.55L430.85 266.4Z" fill="#ff0000"/><path d="M434 267.75L437.15 270.9L434 274.05L430.85 270.9Z" fill="#ff0000"/>
<line x1="487.8" y1="259.5" x2="487.8" y2="251.9" stroke="#2020ff" stroke-width="1.1"/><line x1="487.8" y1="267.3" x2="487.8" y2="273.9" stroke="#2020ff" stroke-width="1.1"/><rect x="463.4" y="259.5" width="48.5" height="7.8" fill="none" stroke="#2020ff" stroke-width="1.15" stroke-linejoin="round"/><line x1="463.4" y1="264" x2="511.9" y2="264" stroke="#2020ff" stroke-width="1.15"/><path d="M484.7 248.8L490.9 255M484.7 255L490.9 248.8M484.6 251.9L491 251.9" stroke="#0000ff" stroke-width="0.9" fill="none"/><path d="M484.7 270.8L490.9 277M484.7 277L490.9 270.8M484.6 273.9L491 273.9" stroke="#0000ff" stroke-width="0.9" fill="none"/><path d="M487.8 248.75L490.95 251.9L487.8 255.05L484.65 251.9Z" fill="#0000ff"/><path d="M507.3 253.55L510.45 256.7L507.3 259.85L504.15 256.7Z" fill="#0000ff"/><path d="M467.5 255.95L470.65 259.1L467.5 262.25L464.35 259.1Z" fill="#0000ff"/><path d="M475.8 256.35L478.95 259.5L475.8 262.65L472.65 259.5Z" fill="#0000ff"/><path d="M483.6 255.35L486.75 258.5L483.6 261.65L480.45 258.5Z" fill="#0000ff"/><path d="M491.8 257.35L494.95 260.5L491.8 263.65L488.65 260.5Z" fill="#0000ff"/><path d="M499.8 255.65L502.95 258.8L499.8 261.95L496.65 258.8Z" fill="#0000ff"/><path d="M471.7 262.25L474.85 265.4L471.7 268.55L468.55 265.4Z" fill="#0000ff"/><path d="M479.9 263.65L483.05 266.8L479.9 269.95L476.75 266.8Z" fill="#0000ff"/><path d="M487.8 261.45L490.95 264.6L487.8 267.75L484.65 264.6Z" fill="#0000ff"/><path d="M487.8 263.85L490.95 267L487.8 270.15L484.65 267Z" fill="#0000ff"/><path d="M495.7 261.15L498.85 264.3L495.7 267.45L492.55 264.3Z" fill="#0000ff"/><path d="M495.7 265.25L498.85 268.4L495.7 271.55L492.55 268.4Z" fill="#0000ff"/><path d="M503.6 262.25L506.75 265.4L503.6 268.55L500.45 265.4Z" fill="#0000ff"/><path d="M479.9 268.05L483.05 271.2L479.9 274.35L476.75 271.2Z" fill="#0000ff"/><path d="M487.8 270.75L490.95 273.9L487.8 277.05L484.65 273.9Z" fill="#0000ff"/>
<line x1="547.4" y1="251.7" x2="547.4" y2="244.8" stroke="#ff30ff" stroke-width="1.1"/><line x1="547.4" y1="263.6" x2="547.4" y2="271.2" stroke="#ff30ff" stroke-width="1.1"/><rect x="523.4" y="251.7" width="48.5" height="11.9" fill="none" stroke="#ff30ff" stroke-width="1.15" stroke-linejoin="round"/><line x1="523.4" y1="258.8" x2="571.9" y2="258.8" stroke="#ff30ff" stroke-width="1.15"/><rect x="545" y="253.6" width="4.8" height="4.8" rx="0.6" fill="none" stroke="#ff30ff" stroke-width="0.8" opacity="0.85"/><path d="M544.3 241.7L550.5 247.9M544.3 247.9L550.5 241.7M544.2 244.8L550.6 244.8" stroke="#ff00ff" stroke-width="0.9" fill="none"/><path d="M544.3 268.1L550.5 274.3M544.3 274.3L550.5 268.1M544.2 271.2L550.6 271.2" stroke="#ff00ff" stroke-width="0.9" fill="none"/><path d="M537.6 243.55L540.75 246.7L537.6 249.85L534.45 246.7Z" fill="#ff00ff"/><path d="M557 242.65L560.15 245.8L557 248.95L553.85 245.8Z" fill="#ff00ff"/><path d="M547.4 246.75L550.55 249.9L547.4 253.05L544.25 249.9Z" fill="#ff00ff"/><path d="M533 248.55L536.15 251.7L533 254.85L529.85 251.7Z" fill="#ff00ff"/><path d="M542.6 249.05L545.75 252.2L542.6 255.35L539.45 252.2Z" fill="#ff00ff"/><path d="M552.2 251.25L555.35 254.4L552.2 257.55L549.05 254.4Z" fill="#ff00ff"/><path d="M561.8 252.25L564.95 255.4L561.8 258.55L558.65 255.4Z" fill="#ff00ff"/><path d="M537.6 254.25L540.75 257.4L537.6 260.55L534.45 257.4Z" fill="#ff00ff"/><path d="M557 255.95L560.15 259.1L557 262.25L553.85 259.1Z" fill="#ff00ff"/><path d="M528.2 258.45L531.35 261.6L528.2 264.75L525.05 261.6Z" fill="#ff00ff"/><path d="M566.6 258.15L569.75 261.3L566.6 264.45L563.45 261.3Z" fill="#ff00ff"/><path d="M547.4 259.05L550.55 262.2L547.4 265.35L544.25 262.2Z" fill="#ff00ff"/><path d="M547.4 262.25L550.55 265.4L547.4 268.55L544.25 265.4Z" fill="#ff00ff"/><path d="M547.4 265.55L550.55 268.7L547.4 271.85L544.25 268.7Z" fill="#ff00ff"/><path d="M537.6 266.95L540.75 270.1L537.6 273.25L534.45 270.1Z" fill="#ff00ff"/><path d="M557 263.85L560.15 267L557 270.15L553.85 267Z" fill="#ff00ff"/>
<line x1="607.2" y1="264.4" x2="607.2" y2="258.5" stroke="#259025" stroke-width="1.1"/><line x1="607.2" y1="276.8" x2="607.2" y2="286" stroke="#259025" stroke-width="1.1"/><rect x="583.4" y="264.4" width="48.1" height="12.4" fill="none" stroke="#259025" stroke-width="1.15" stroke-linejoin="round"/><line x1="583.4" y1="270.2" x2="631.5" y2="270.2" stroke="#259025" stroke-width="1.15"/><rect x="604.8" y="269.6" width="4.8" height="4.8" rx="0.6" fill="none" stroke="#259025" stroke-width="0.8" opacity="0.85"/><path d="M604.1 255.4L610.3 261.6M604.1 261.6L610.3 255.4M604 258.5L610.4 258.5" stroke="#008000" stroke-width="0.9" fill="none"/><path d="M604.1 282.9L610.3 289.1M604.1 289.1L610.3 282.9M604 286L610.4 286" stroke="#008000" stroke-width="0.9" fill="none"/><path d="M595.4 256.05L598.55 259.2L595.4 262.35L592.25 259.2Z" fill="#008000"/><path d="M607.2 257.75L610.35 260.9L607.2 264.05L604.05 260.9Z" fill="#008000"/><path d="M619.4 257.75L622.55 260.9L619.4 264.05L616.25 260.9Z" fill="#008000"/><path d="M595.4 261.55L598.55 264.7L595.4 267.85L592.25 264.7Z" fill="#008000"/><path d="M607.2 261.55L610.35 264.7L607.2 267.85L604.05 264.7Z" fill="#008000"/><path d="M619.4 261.55L622.55 264.7L619.4 267.85L616.25 264.7Z" fill="#008000"/><path d="M588.9 265.95L592.05 269.1L588.9 272.25L585.75 269.1Z" fill="#008000"/><path d="M601.3 266.75L604.45 269.9L601.3 273.05L598.15 269.9Z" fill="#008000"/><path d="M612.9 265.35L616.05 268.5L612.9 271.65L609.75 268.5Z" fill="#008000"/><path d="M625.3 265.95L628.45 269.1L625.3 272.25L622.15 269.1Z" fill="#008000"/><path d="M607.2 270.45L610.35 273.6L607.2 276.75L604.05 273.6Z" fill="#008000"/><path d="M607.2 275.25L610.35 278.4L607.2 281.55L604.05 278.4Z" fill="#008000"/><path d="M595.4 273.95L598.55 277.1L595.4 280.25L592.25 277.1Z" fill="#008000"/><path d="M619.4 273.25L622.55 276.4L619.4 279.55L616.25 276.4Z" fill="#008000"/><path d="M601.3 282.15L604.45 285.3L601.3 288.45L598.15 285.3Z" fill="#008000"/><path d="M613.6 282.85L616.75 286L613.6 289.15L610.45 286Z" fill="#008000"/>
<g stroke="#333333" stroke-width="1.5" fill="none" stroke-linejoin="round">
<rect x="38.9" y="1.7" width="598.1" height="418"/>
<line x1="337.9" y1="1.7" x2="337.9" y2="419.7"/>
<line x1="38.9" y1="210.8" x2="637" y2="210.8"/>
</g>
<path d="M34.9 9.4H38.9M34.9 40.4H38.9M34.9 71.4H38.9M34.9 102.4H38.9M34.9 133.4H38.9M34.9 164.4H38.9M34.9 195.4H38.9M36.7 24.9H38.9M36.7 55.9H38.9M36.7 86.9H38.9M36.7 117.9H38.9M36.7 148.9H38.9M36.7 179.9H38.9M36.7 210.9H38.9M34.9 227.8H38.9M34.9 272.95H38.9M34.9 318.1H38.9M34.9 363.25H38.9M34.9 408.4H38.9M36.7 250.38H38.9M36.7 295.53H38.9M36.7 340.68H38.9M36.7 385.82H38.9M637 6.3H641M637 25.8H641M637 45.3H641M637 64.8H641M637 84.3H641M637 103.8H641M637 123.3H641M637 142.8H641M637 162.3H641M637 181.8H641M637 201.3H641M637 16.05H639.2M637 35.55H639.2M637 55.05H639.2M637 74.55H639.2M637 94.05H639.2M637 113.55H639.2M637 133.05H639.2M637 152.55H639.2M637 172.05H639.2M637 191.55H639.2M637 211.05H639.2M637 224H641M637 251H641M637 278H641M637 305H641M637 332H641M637 359H641M637 386H641M637 413H641M637 237.5H639.2M637 264.5H639.2M637 291.5H639.2M637 318.5H639.2M637 345.5H639.2M637 372.5H639.2M637 399.5H639.2M68.9 419.7V423.7M68.9 210.8V214.8M128.6 419.7V423.7M128.6 210.8V214.8M188.4 419.7V423.7M188.4 210.8V214.8M248.2 419.7V423.7M248.2 210.8V214.8M308.1 419.7V423.7M308.1 210.8V214.8M367.9 419.7V423.7M367.9 210.8V214.8M427.7 419.7V423.7M427.7 210.8V214.8M487.6 419.7V423.7M487.6 210.8V214.8M547.4 419.7V423.7M547.4 210.8V214.8M607.3 419.7V423.7M607.3 210.8V214.8" stroke="#333333" stroke-width="1.2" fill="none"/>
<g fill="#1a1a1a" stroke="#1a1a1a" stroke-width="0.25"><text x="32" y="13.3" font-size="10.8" text-anchor="end">14</text><text x="32" y="44.3" font-size="10.8" text-anchor="end">12</text><text x="32" y="75.3" font-size="10.8" text-anchor="end">10</text><text x="32" y="106.3" font-size="10.8" text-anchor="end">8</text><text x="32" y="137.3" font-size="10.8" text-anchor="end">6</text><text x="32" y="168.3" font-size="10.8" text-anchor="end">4</text><text x="32" y="199.3" font-size="10.8" text-anchor="end">2</text><text x="32" y="231.7" font-size="10.8" text-anchor="end">1.0</text><text x="32" y="276.85" font-size="10.8" text-anchor="end">0.8</text><text x="32" y="322" font-size="10.8" text-anchor="end">0.6</text><text x="32" y="367.15" font-size="10.8" text-anchor="end">0.4</text><text x="32" y="412.3" font-size="10.8" text-anchor="end">0.2</text><text x="644.4" y="10.2" font-size="10.8" text-anchor="start">22</text><text x="644.4" y="29.7" font-size="10.8" text-anchor="start">20</text><text x="644.4" y="49.2" font-size="10.8" text-anchor="start">18</text><text x="644.4" y="68.7" font-size="10.8" text-anchor="start">16</text><text x="644.4" y="88.2" font-size="10.8" text-anchor="start">14</text><text x="644.4" y="107.7" font-size="10.8" text-anchor="start">12</text><text x="644.4" y="127.2" font-size="10.8" text-anchor="start">10</text><text x="644.4" y="146.7" font-size="10.8" text-anchor="start">8</text><text x="644.4" y="166.2" font-size="10.8" text-anchor="start">6</text><text x="644.4" y="185.7" font-size="10.8" text-anchor="start">4</text><text x="644.4" y="205.2" font-size="10.8" text-anchor="start">2</text><text x="644.4" y="227.9" font-size="10.8" text-anchor="start">80</text><text x="644.4" y="254.9" font-size="10.8" text-anchor="start">70</text><text x="644.4" y="281.9" font-size="10.8" text-anchor="start">60</text><text x="644.4" y="308.9" font-size="10.8" text-anchor="start">50</text><text x="644.4" y="335.9" font-size="10.8" text-anchor="start">40</text><text x="644.4" y="362.9" font-size="10.8" text-anchor="start">30</text><text x="644.4" y="389.9" font-size="10.8" text-anchor="start">20</text><text x="644.4" y="416.9" font-size="10.8" text-anchor="start">10</text><text x="68.9" y="435.6" font-size="10.8" text-anchor="middle">A</text><text x="128.6" y="435.6" font-size="10.8" text-anchor="middle">B</text><text x="188.4" y="435.6" font-size="10.8" text-anchor="middle">C</text><text x="248.2" y="435.6" font-size="10.8" text-anchor="middle">D</text><text x="308.1" y="435.6" font-size="10.8" text-anchor="middle">E</text><text x="367.9" y="435.6" font-size="10.8" text-anchor="middle">A</text><text x="427.7" y="435.6" font-size="10.8" text-anchor="middle">B</text><text x="487.6" y="435.6" font-size="10.8" text-anchor="middle">C</text><text x="547.4" y="435.6" font-size="10.8" text-anchor="middle">D</text><text x="607.3" y="435.6" font-size="10.8" text-anchor="middle">E</text></g>
<g fill="#1a1a1a" font-size="11.3" stroke="#1a1a1a" stroke-width="0.15">
<text transform="translate(15.7 106.4) rotate(-90)" text-anchor="middle">PCE (%)</text>
<text transform="translate(10.1 315.7) rotate(-90)" text-anchor="middle">V<tspan font-size="7.5" dy="2.6">OC</tspan><tspan dy="-2.6"> (V)</tspan></text>
<text transform="translate(663.4 107.3) rotate(90)" text-anchor="middle">J<tspan font-size="7.5" dy="2.6">SC</tspan><tspan dy="-2.6"> (mA/cm</tspan><tspan font-size="7.5" dy="-4">2</tspan><tspan dy="4">)</tspan></text>
<text transform="translate(661.4 317.4) rotate(90)" text-anchor="middle">FF (%)</text>
</g>
<rect x="48.4" y="310.6" width="114" height="99.8" fill="#ffffff" stroke="#727272" stroke-width="1.1"/>
<rect x="55" y="314.6" width="34.2" height="16.2" rx="1.2" fill="none" stroke="#505050" stroke-width="1.3"/>
<text x="94.2" y="327.8" font-size="15.5" fill="#111">Device A</text>
<rect x="55" y="333.5" width="34.2" height="16.6" rx="1.2" fill="none" stroke="#ff3030" stroke-width="1.3"/>
<text x="94.2" y="347.1" font-size="15.5" fill="#111">Device B</text>
<rect x="55" y="352.7" width="34.2" height="16.5" rx="1.2" fill="none" stroke="#3030ff" stroke-width="1.3"/>
<text x="94.2" y="366.2" font-size="15.5" fill="#111">DeviceC</text>
<rect x="55" y="371.9" width="34.2" height="16.5" rx="1.2" fill="none" stroke="#ff30ff" stroke-width="1.3"/>
<text x="94.2" y="385.4" font-size="15.5" fill="#111">Device D</text>
<rect x="55" y="391.4" width="34.2" height="16.5" rx="1.2" fill="none" stroke="#30a030" stroke-width="1.3"/>
<text x="94.2" y="404.9" font-size="15.5" fill="#111">Device E</text>
</svg></body></html>
